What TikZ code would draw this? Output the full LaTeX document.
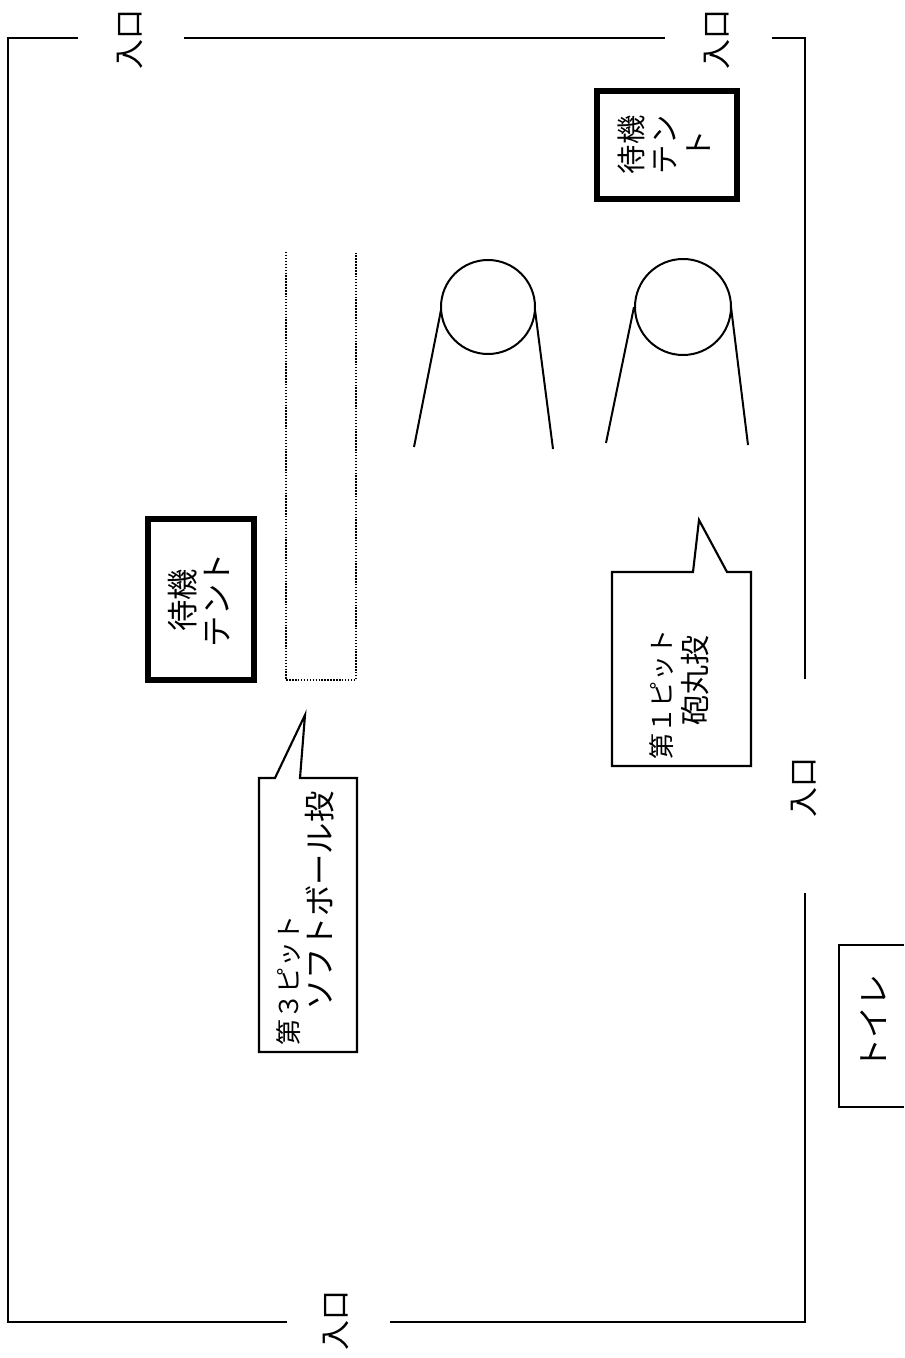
\documentclass[tikz,border=0pt]{standalone}
\usepackage{fontspec}
\setmainfont{Noto Sans CJK JP}
\tikzset{
  x=0.75pt,y=-0.75pt,
  wall/.style={draw=black,line width=2.1pt,line cap=butt,line join=miter},
  thin wall/.style={draw=black,line width=1.6pt},
  tent/.style={draw=black,line width=4pt},
  bubble/.style={draw=black,fill=white,line width=1.6pt,line join=miter},
  rope/.style={draw=black,line width=1.5pt},
  pit/.style={draw=black,line width=1.7pt,dash pattern=on 1.1pt off 1.1pt},
  lbl/.style={rotate=90,inner sep=0pt,outer sep=0pt,align=center,font=\fontsize{22.5pt}{24pt}\selectfont},
  small/.style={lbl,font=\fontsize{19.5pt}{24pt}\selectfont}
}
\begin{document}
\begin{tikzpicture}
\useasboundingbox (0,0) rectangle (904,1358);
\draw[wall] (78,38) -- (8,38) -- (8,1322) -- (287,1322);
\draw[wall] (184,38) -- (665,38);
\draw[wall] (772,38) -- (805,38) -- (805,679);
\draw[wall] (805,893) -- (805,1322) -- (390,1322);
\node[lbl] (e1) at (130,40) {入口};
\node[lbl] (e2) at (717,40) {入口};
\node[lbl] (e3) at (804,787) {入口};
\node[lbl] (e4) at (336,1320) {入口};
\draw[tent] (597,91) rectangle (737,199);
\node[lbl,font=\fontsize{22pt}{25pt}\selectfont] (t1) at (664,145) {待機\\テン\\ト};
\draw[tent] (148,519) rectangle (254,680);
\node[lbl,font=\fontsize{23.5pt}{25pt}\selectfont] (t2) at (199,600) {待機\\テント};
\draw[pit] (286,252) -- (286,680) -- (356,680) -- (356,252);
\draw[rope] (488,307) circle (47);
\draw[rope] (683,307) circle (48);
\draw[rope] (441,310) -- (414,447);
\draw[rope] (535,310) -- (553,449);
\draw[rope] (634,307) -- (606,443);
\draw[rope] (731,307) -- (748,445);
\draw[bubble] (612,572) -- (693,572) -- (699,520) -- (727,572) -- (751,572) -- (751,766) -- (612,766) -- cycle;
\node[small,anchor=center] (b1a) at (662,694) {第１ピット};
\node[lbl] (b1b) at (695,680) {砲丸投};
\draw[bubble] (259,778) -- (275,778) -- (305,715) -- (300,778) -- (357,778) -- (357,1052) -- (259,1052) -- cycle;
\node[small] (b2a) at (289,980) {第３ピット};
\node[lbl,font=\fontsize{23.5pt}{24pt}\selectfont] (b2b) at (320,901) {ソフトボール投};
\draw[thin wall] (904,945) -- (839,945) -- (839,1107) -- (904,1107);
\node[lbl,font=\fontsize{24pt}{24pt}\selectfont] (wc) at (873,1022) {トイレ};
\end{tikzpicture}
\end{document}
